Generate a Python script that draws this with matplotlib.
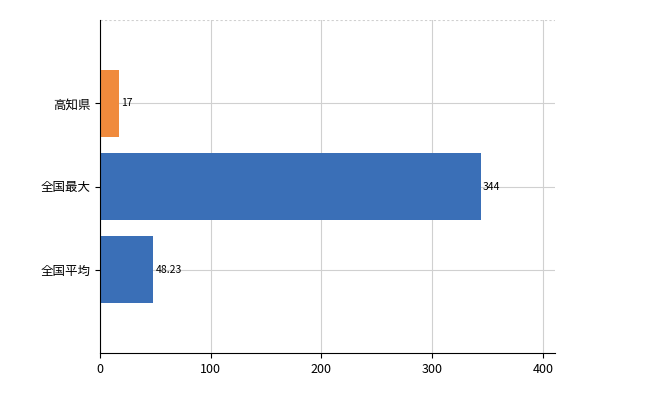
import matplotlib.pyplot as plt

plt.rcParams['font.family'] = ['Noto Sans CJK JP', 'DejaVu Sans']

labels = ['全国平均', '全国最大', '高知県']
values = [48.23, 344, 17]
value_texts = ['48.23', '344', '17']
colors = ['#3a6fb7', '#3a6fb7', '#f08a3c']

fig = plt.figure(figsize=(6.5, 4), dpi=100)
ax = fig.add_axes([100 / 650, 47 / 400, 455 / 650, 333 / 400])

ax.barh(range(len(labels)), values, height=0.8, color=colors, zorder=2)
for i, (v, t) in enumerate(zip(values, value_texts)):
    ax.text(v + 2, i, t, va='center', ha='left', fontsize=7.5, zorder=3)

ax.set_xlim(0, 411)
ax.set_ylim(-1, 3)
ax.set_xticks([0, 100, 200, 300, 400])
ax.set_yticks(range(len(labels)))
ax.set_yticklabels(labels, fontsize=9)
ax.tick_params(axis='x', labelsize=9)
ax.grid(True, color='#d0d0d0', linewidth=0.8, zorder=0)
ax.axhline(3, color='#d0d0d0', linewidth=0.8, linestyle=(0, (2, 2)))
for s in ['top', 'right']:
    ax.spines[s].set_visible(False)

fig.savefig('out.png', dpi=100)
